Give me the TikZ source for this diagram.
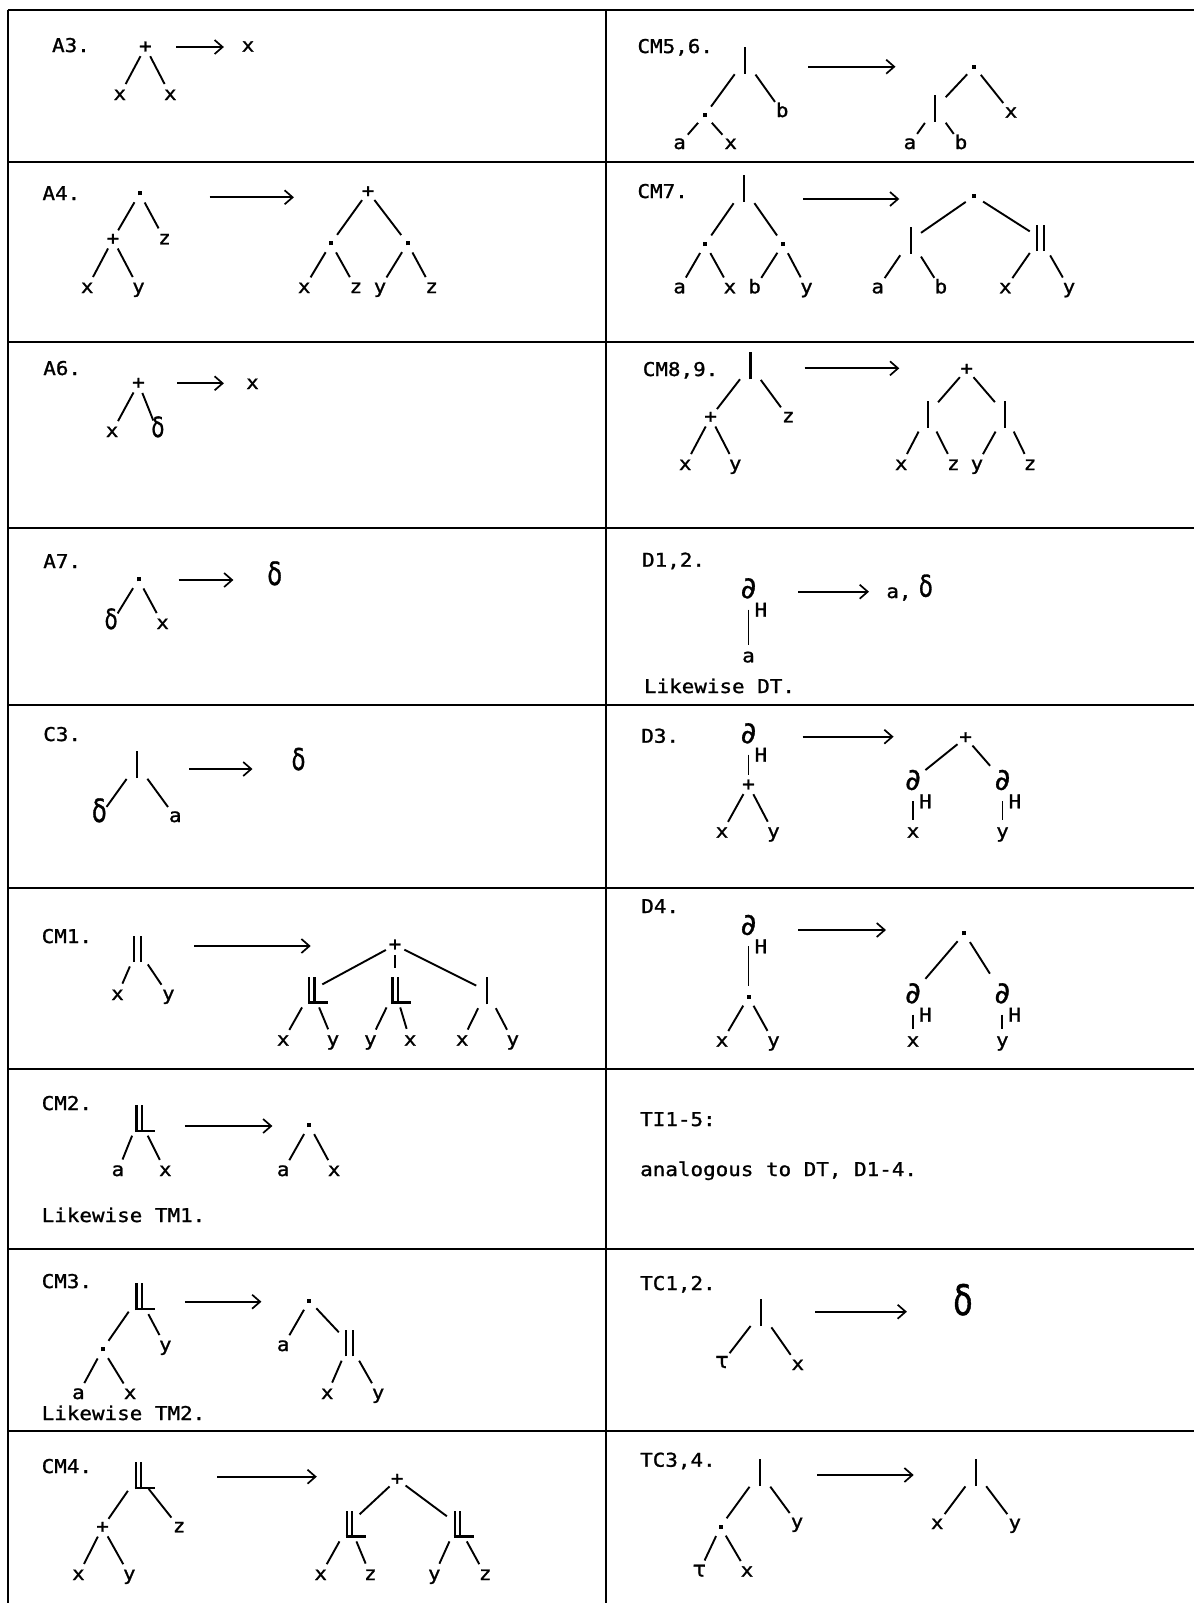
\documentclass[tikz,border=0pt]{standalone}
\usepackage{fontspec}
\setmainfont{DejaVu Sans Mono}[FakeStretch=1.1,FakeBold=1.2]
\newfontfamily\symfont{DejaVu Sans}[FakeBold=1]
\newfontfamily\deltafont{DejaVu Sans}[FakeStretch=0.75,FakeBold=1]
\usetikzlibrary{arrows.meta}

% text size and operator glyphs built from rules
\newcommand\txtsize{\fontsize{9.5}{11}\selectfont}
\newcommand\onebar{\rule{1.1pt}{13.5pt}}
\newcommand\twobar{\rule{1.1pt}{13pt}\hspace{2.4pt}\rule{1.1pt}{13pt}}
\newcommand\lmbar{\rlap{\rule{10pt}{1.1pt}}\rule{1.1pt}{13.5pt}\hspace{1.5pt}\rule{1.1pt}{13.5pt}}
\newcommand\dotsym{\rule{2pt}{2pt}}
\newcommand\dlt[1][14]{{\deltafont\fontsize{#1}{#1}\selectfont δ}}
\newcommand\tausym{{\symfont\fontsize{11}{11}\selectfont τ}}
\newcommand\dersym{{\symfont\fontsize{15}{15}\selectfont ∂}}

\tikzset{
  gridline/.style={line width=1pt},
  branch/.style={line width=0.95pt},
  rulearrow/.style={line width=0.85pt,-{Straight Barb[length=4pt,width=7pt]}},
  rulelabel/.style={anchor=base west,inner sep=0pt,font=\txtsize},
  leaf/.style={circle,inner sep=0pt,minimum size=12pt,text height=5pt,text depth=0pt,font=\txtsize},
  opnode/.style={circle,inner sep=0pt,minimum size=10pt,font=\txtsize},
  barnode/.style={rectangle,inner sep=0pt,minimum width=10pt,minimum height=17pt},
  dernode/.style={rectangle,inner sep=0pt,minimum width=12pt,minimum height=21pt},
  hsub/.style={anchor=center,inner sep=0pt,font=\txtsize},
  result/.style={anchor=base,inner sep=0pt,font=\txtsize},
}

\begin{document}
\begin{tikzpicture}[x=0.5pt,y=-0.5pt]
\fill[white] (0,0) rectangle (1194,1603);
\useasboundingbox (0,0) rectangle (1194,1603);

% ---------- table grid ----------
\draw[gridline] (7.7,10) -- (1194,10);
\foreach \yy in {162,342,527.5,704.5,888,1069,1248.5,1430.5}
  \draw[gridline] (7.7,\yy) -- (1194,\yy);
\draw[gridline] (7.7,10) -- (7.7,1603);
\draw[gridline] (605.7,10) -- (605.7,1603);

% ---------- A3 ----------
\node[rulelabel] (la3) at (51.7,52) {A3.};
\node[opnode] (a3p) at (145.4,47) {+};
\node[leaf] (a3x1) at (119.8,95) {x};
\node[leaf] (a3x2) at (170.3,95) {x};
\draw[branch] (a3p) -- (a3x1);
\draw[branch] (a3p) -- (a3x2);
\coordinate (a3s) at (176,47); \coordinate (a3e) at (223.9,47);
\draw[rulearrow] (a3s) -- (a3e);
\node[result] (a3r) at (248,51.7) {x};

% ---------- A4 ----------
\node[rulelabel] (la4) at (42.1,200) {A4.};
\node[opnode] (a4d) at (139.7,193.3) {\dotsym};
\node[opnode] (a4p) at (112.9,239.3) {+};
\node[leaf] (a4z) at (164.5,239.3) {z};
\node[leaf] (a4x) at (87.2,288) {x};
\node[leaf] (a4y) at (138.5,288) {y};
\draw[branch] (a4d) -- (a4p);
\draw[branch] (a4d) -- (a4z);
\draw[branch] (a4p) -- (a4x);
\draw[branch] (a4p) -- (a4y);
\coordinate (a4s) at (209.7,197.3); \coordinate (a4e) at (293.9,197.3);
\draw[rulearrow] (a4s) -- (a4e);
\node[opnode] (a4q) at (368.1,191.7) {+};
\node[opnode] (a4l) at (331,243.3) {\dotsym};
\node[opnode] (a4r) at (407.5,243.3) {\dotsym};
\node[leaf] (a4x2) at (304.2,288) {x};
\node[leaf] (a4z2) at (355.9,288) {z};
\node[leaf] (a4y2) at (380,288) {y};
\node[leaf] (a4z3) at (431.6,288) {z};
\draw[branch] (a4q) -- (a4l);
\draw[branch] (a4q) -- (a4r);
\draw[branch] (a4l) -- (a4x2);
\draw[branch] (a4l) -- (a4z2);
\draw[branch] (a4r) -- (a4y2);
\draw[branch] (a4r) -- (a4z3);

% ---------- A6 ----------
\node[rulelabel] (la6) at (42.9,375) {A6.};
\node[opnode] (a6p) at (138.5,383.3) {+};
\node[leaf] (a6x) at (112.1,432) {x};
\node[leaf] (a6d) at (157.9,432) {\dlt};
\draw[branch] (a6p) -- (a6x);
\draw[branch] (a6p) -- (a6d);
\coordinate (a6s) at (177.2,383.3); \coordinate (a6e) at (223.9,383.3);
\draw[rulearrow] (a6s) -- (a6e);
\node[result] (a6r) at (252.5,389) {x};

% ---------- A7 ----------
\node[rulelabel] (la7) at (42.9,568) {A7.};
\node[opnode] (a7p) at (138.5,579.3) {\dotsym};
\node[leaf] (a7d) at (111.1,624) {\dlt};
\node[leaf] (a7x) at (162.6,624) {x};
\draw[branch] (a7p) -- (a7d);
\draw[branch] (a7p) -- (a7x);
\coordinate (a7s) at (178.7,580); \coordinate (a7e) at (233.4,580);
\draw[rulearrow] (a7s) -- (a7e);
\node[result] (a7r) at (274.7,585) {\dlt[16]};

% ---------- C3 ----------
\node[rulelabel] (lc3) at (42.9,741) {C3.};
\node[barnode] (c3b) at (137,764.5) {\onebar};
\node[leaf] (c3d) at (99.3,817) {\dlt[16]};
\node[leaf] (c3a) at (175.3,817) {a};
\draw[branch] (c3b) -- (c3d);
\draw[branch] (c3b) -- (c3a);
\coordinate (c3s) at (189.4,769); \coordinate (c3e) at (252.5,769);
\draw[rulearrow] (c3s) -- (c3e);
\node[result] (c3r) at (298.5,770) {\dlt[15]};

% ---------- CM1 ----------
\node[rulelabel] (lm1) at (41.3,943) {CM1.};
\node[barnode] (m1b) at (137.4,949) {\twobar};
\node[leaf] (m1x) at (117.5,995) {x};
\node[leaf] (m1y) at (168.4,995) {y};
\draw[branch] (m1b) -- (m1x);
\draw[branch] (m1b) -- (m1y);
\coordinate (m1s) at (194.4,946); \coordinate (m1e) at (310.7,946);
\draw[rulearrow] (m1s) -- (m1e);
\node[opnode] (m1p) at (395,945) {+};
\node[barnode] (m1l) at (311.9,990) {\lmbar};
\node[barnode] (m1m) at (395,990) {\lmbar};
\node[barnode] (m1r) at (486.7,990.8) {\onebar};
\node[leaf] (m1la) at (283.2,1040.7) {x};
\node[leaf] (m1lb) at (332.9,1040.7) {y};
\node[leaf] (m1ma) at (370.4,1040.7) {y};
\node[leaf] (m1mb) at (410.2,1040.7) {x};
\node[leaf] (m1ra) at (462.2,1040.7) {x};
\node[leaf] (m1rb) at (512.8,1040.7) {y};
\draw[branch] (m1p) -- (m1l);
\draw[branch,shorten >=2.5pt] (m1p) -- (m1m);
\draw[branch] (m1p) -- (m1r);
\draw[branch] (m1l) -- (m1la);
\draw[branch] (m1l) -- (m1lb);
\draw[branch] (m1m) -- (m1ma);
\draw[branch] (m1m) -- (m1mb);
\draw[branch] (m1r) -- (m1ra);
\draw[branch] (m1r) -- (m1rb);

% ---------- CM2 ----------
\node[rulelabel] (lm2) at (41.3,1110) {CM2.};
\node[barnode] (m2l) at (139.1,1118.3) {\lmbar};
\node[leaf] (m2a) at (117.9,1171) {a};
\node[leaf] (m2x) at (165.3,1171) {x};
\draw[branch] (m2l) -- (m2a);
\draw[branch] (m2l) -- (m2x);
\coordinate (m2s) at (184.8,1126); \coordinate (m2e) at (272.4,1126);
\draw[rulearrow] (m2s) -- (m2e);
\node[opnode] (m2d) at (309.2,1125) {\dotsym};
\node[leaf] (m2a2) at (283.2,1171) {a};
\node[leaf] (m2x2) at (334.1,1171) {x};
\draw[branch] (m2d) -- (m2a2);
\draw[branch] (m2d) -- (m2x2);
\node[rulelabel] (lw1) at (41.3,1222) {Likewise TM1.};

% ---------- CM3 ----------
\node[rulelabel] (lm3) at (41.3,1288) {CM3.};
\node[barnode] (m3l) at (139.1,1296.7) {\lmbar};
\node[opnode] (m3d) at (102.6,1349.3) {\dotsym};
\node[leaf] (m3y) at (165.3,1346) {y};
\node[leaf] (m3a) at (78.4,1394) {a};
\node[leaf] (m3x) at (130.1,1394) {x};
\draw[branch] (m3l) -- (m3d);
\draw[branch] (m3l) -- (m3y);
\draw[branch] (m3d) -- (m3a);
\draw[branch] (m3d) -- (m3x);
\coordinate (m3s) at (184.8,1301.7); \coordinate (m3e) at (261.4,1301.7);
\draw[rulearrow] (m3s) -- (m3e);
\node[opnode] (m3d2) at (309.2,1300.7) {\dotsym};
\node[leaf] (m3a2) at (283.2,1346) {a};
\node[barnode] (m3b2) at (349.2,1343.3) {\twobar};
\node[leaf] (m3x2) at (327.2,1394) {x};
\node[leaf] (m3y2) at (378.1,1394) {y};
\draw[branch] (m3d2) -- (m3a2);
\draw[branch] (m3d2) -- (m3b2);
\draw[branch] (m3b2) -- (m3x2);
\draw[branch] (m3b2) -- (m3y2);
\node[rulelabel] (lw2) at (41.3,1420) {Likewise TM2.};

% ---------- CM4 ----------
\node[rulelabel] (lm4) at (41.3,1473) {CM4.};
\node[barnode] (m4l) at (138.3,1475.8) {\lmbar};
\node[opnode] (m4p) at (102.6,1527.3) {+};
\node[leaf] (m4z) at (179.1,1527.3) {z};
\node[leaf] (m4x) at (78.4,1575) {x};
\node[leaf] (m4y) at (129.3,1575) {y};
\draw[branch] (m4l) -- (m4p);
\draw[branch] (m4l) -- (m4z);
\draw[branch] (m4p) -- (m4x);
\draw[branch] (m4p) -- (m4y);
\coordinate (m4s) at (217.3,1476.7); \coordinate (m4e) at (316.8,1476.7);
\draw[rulearrow] (m4s) -- (m4e);
\node[opnode] (m4q) at (397.2,1479.3) {+};
\node[barnode] (m4ll) at (349.2,1524) {\lmbar};
\node[barnode] (m4lr) at (457.3,1524) {\lmbar};
\node[leaf] (m4x2) at (320.7,1575) {x};
\node[leaf] (m4z2) at (370.4,1575) {z};
\node[leaf] (m4y2) at (434.3,1575) {y};
\node[leaf] (m4z3) at (485.2,1575) {z};
\draw[branch] (m4q) -- (m4ll);
\draw[branch] (m4q) -- (m4lr);
\draw[branch] (m4ll) -- (m4x2);
\draw[branch] (m4ll) -- (m4z2);
\draw[branch] (m4lr) -- (m4y2);
\draw[branch] (m4lr) -- (m4z3);

% ---------- CM5,6 ----------
\node[rulelabel] (lm5) at (637.1,53) {CM5,6.};
\node[barnode] (m5b) at (745.1,60) {\onebar};
\node[opnode] (m5d) at (704.9,115) {\dotsym};
\node[leaf] (m5bb) at (782.2,112) {b};
\node[leaf] (m5a) at (679.6,144) {a};
\node[leaf] (m5x) at (730.7,144) {x};
\draw[branch] (m5b) -- (m5d);
\draw[branch] (m5b) -- (m5bb);
\draw[branch] (m5d) -- (m5a);
\draw[branch] (m5d) -- (m5x);
\coordinate (m5s) at (808.4,66.7); \coordinate (m5e) at (895.5,66.7);
\draw[rulearrow] (m5s) -- (m5e);
\node[opnode] (m5d2) at (974.3,66.7) {\dotsym};
\node[barnode] (m5b2) at (935.3,108.3) {\onebar};
\node[leaf] (m5x2) at (1011,112.7) {x};
\node[leaf] (m5a2) at (909.9,144) {a};
\node[leaf] (m5bb2) at (961,144) {b};
\draw[branch] (m5d2) -- (m5b2);
\draw[branch] (m5d2) -- (m5x2);
\draw[branch] (m5b2) -- (m5a2);
\draw[branch] (m5b2) -- (m5bb2);

% ---------- CM7 ----------
\node[rulelabel] (lm7) at (637.1,198) {CM7.};
\node[barnode] (m7b) at (744,188.3) {\onebar};
\node[opnode] (m7dl) at (705.3,244) {\dotsym};
\node[opnode] (m7dr) at (783,244) {\dotsym};
\node[leaf] (m7a) at (679.6,288.3) {a};
\node[leaf] (m7x) at (729.9,288.3) {x};
\node[leaf] (m7bb) at (754.6,288.3) {b};
\node[leaf] (m7y) at (806.5,288.3) {y};
\draw[branch] (m7b) -- (m7dl);
\draw[branch] (m7b) -- (m7dr);
\draw[branch] (m7dl) -- (m7a);
\draw[branch] (m7dl) -- (m7x);
\draw[branch] (m7dr) -- (m7bb);
\draw[branch] (m7dr) -- (m7y);
\coordinate (m7s) at (803.4,199); \coordinate (m7e) at (899.3,199);
\draw[rulearrow] (m7s) -- (m7e);
\node[opnode] (m7d2) at (974.3,196) {\dotsym};
\node[barnode] (m7bl) at (910.6,240) {\onebar};
\node[barnode] (m7br) at (1040.2,238) {\twobar};
\node[leaf] (m7a2) at (877.7,288.3) {a};
\node[leaf] (m7bb2) at (940.9,288.3) {b};
\node[leaf] (m7x2) at (1005.3,288.3) {x};
\node[leaf] (m7y2) at (1069,288.3) {y};
\draw[branch] (m7d2) -- (m7bl);
\draw[branch] (m7d2) -- (m7br);
\draw[branch] (m7bl) -- (m7a2);
\draw[branch] (m7bl) -- (m7bb2);
\draw[branch] (m7br) -- (m7x2);
\draw[branch] (m7br) -- (m7y2);

% ---------- CM8,9 ----------
\node[rulelabel] (lm8) at (642.4,376) {CM8,9.};
\node[barnode] (m8b) at (750.4,365.8) {\onebar};
\node[opnode] (m8p) at (710.6,417.3) {+};
\node[leaf] (m8z) at (788.3,417.3) {z};
\node[leaf] (m8x) at (685.2,465) {x};
\node[leaf] (m8y) at (735.2,465) {y};
\draw[branch] (m8b) -- (m8p);
\draw[branch] (m8b) -- (m8z);
\draw[branch] (m8p) -- (m8x);
\draw[branch] (m8p) -- (m8y);
\coordinate (m8s) at (804.6,368.3); \coordinate (m8e) at (899.3,368.3);
\draw[rulearrow] (m8s) -- (m8e);
\node[opnode] (m8q) at (966.7,369.3) {+};
\node[barnode] (m8bl) at (927.7,414.2) {\onebar};
\node[barnode] (m8br) at (1005.3,414.2) {\onebar};
\node[leaf] (m8x2) at (901.2,465) {x};
\node[leaf] (m8z2) at (953.4,465) {z};
\node[leaf] (m8y2) at (976.9,465) {y};
\node[leaf] (m8z3) at (1030,465) {z};
\draw[branch] (m8q) -- (m8bl);
\draw[branch] (m8q) -- (m8br);
\draw[branch] (m8bl) -- (m8x2);
\draw[branch] (m8bl) -- (m8z2);
\draw[branch] (m8br) -- (m8y2);
\draw[branch] (m8br) -- (m8z3);

% ---------- D1,2 ----------
\node[rulelabel] (ld1) at (641.7,566.7) {D1,2.};
\node[dernode] (d1p) at (748.5,588.3) {\dersym};
\node[hsub] (d1h) at (d1p.south east) {H};
\node[leaf] (d1a) at (748.5,657.3) {a};
\draw[branch] (d1p) -- (d1a);
\coordinate (d1s) at (798.1,591.7); \coordinate (d1e) at (869,591.7);
\draw[rulearrow] (d1s) -- (d1e);
\node[rulelabel] (d1r) at (886,598) {a,};
\node[result] (d1d) at (925.8,596.7) {\dlt[15]};
\node[rulelabel] (lw3) at (643.6,693) {Likewise DT.};

% ---------- D3 ----------
\node[rulelabel] (ld3) at (640.9,742.7) {D3.};
\node[dernode] (d3p) at (748.5,733.3) {\dersym};
\node[hsub] (d3h) at (d3p.south east) {H};
\node[opnode] (d3q) at (748.5,785) {+};
\node[leaf] (d3x) at (722,832.7) {x};
\node[leaf] (d3y) at (773.5,832.7) {y};
\draw[branch] (d3p) -- (d3q);
\draw[branch] (d3q) -- (d3x);
\draw[branch] (d3q) -- (d3y);
\coordinate (d3s) at (802.7,736.7); \coordinate (d3e) at (893.6,736.7);
\draw[rulearrow] (d3s) -- (d3e);
\node[opnode] (d3q2) at (965.6,737.7) {+};
\node[dernode] (d3pl) at (913,780) {\dersym};
\node[hsub] (d3hl) at (d3pl.south east) {H};
\node[dernode] (d3pr) at (1002.5,780) {\dersym};
\node[hsub] (d3hr) at (d3pr.south east) {H};
\node[leaf] (d3x2) at (913,832.7) {x};
\node[leaf] (d3y2) at (1002.5,832.7) {y};
\draw[branch] (d3q2) -- (d3pl);
\draw[branch] (d3q2) -- (d3pr);
\draw[branch] (d3pl) -- (d3x2);
\draw[branch] (d3pr) -- (d3y2);

% ---------- D4 ----------
\node[rulelabel] (ld4) at (640.9,913) {D4.};
\node[dernode] (d4p) at (748.5,925) {\dersym};
\node[hsub] (d4h) at (d4p.south east) {H};
\node[opnode] (d4d) at (748.5,996.7) {\dotsym};
\node[leaf] (d4x) at (722,1041.7) {x};
\node[leaf] (d4y) at (773.5,1041.7) {y};
\draw[branch] (d4p) -- (d4d);
\draw[branch] (d4d) -- (d4x);
\draw[branch] (d4d) -- (d4y);
\coordinate (d4s) at (798.1,930); \coordinate (d4e) at (886,930);
\draw[rulearrow] (d4s) -- (d4e);
\node[opnode] (d4d2) at (964.4,933.3) {\dotsym};
\node[dernode] (d4pl) at (913,993.3) {\dersym};
\node[hsub] (d4hl) at (d4pl.south east) {H};
\node[dernode] (d4pr) at (1002.3,993.3) {\dersym};
\node[hsub] (d4hr) at (d4pr.south east) {H};
\node[leaf] (d4x2) at (913,1041.7) {x};
\node[leaf] (d4y2) at (1002.3,1041.7) {y};
\draw[branch] (d4d2) -- (d4pl);
\draw[branch] (d4d2) -- (d4pr);
\draw[branch] (d4pl) -- (d4x2);
\draw[branch] (d4pr) -- (d4y2);

% ---------- TI1-5 ----------
\node[rulelabel] (lti) at (639.8,1126) {TI1-5:};
\node[rulelabel] (lti2) at (639.8,1176) {analogous to DT, D1-4.};

% ---------- TC1,2 ----------
\node[rulelabel] (ltc1) at (639.8,1290) {TC1,2.};
\node[barnode] (t1b) at (761,1312.5) {\onebar};
\node[leaf] (t1t) at (722,1363) {\tausym};
\node[leaf] (t1x) at (797.8,1365) {x};
\draw[branch] (t1b) -- (t1t);
\draw[branch] (t1b) -- (t1x);
\coordinate (t1s) at (815.2,1311.7); \coordinate (t1e) at (906.9,1311.7);
\draw[rulearrow] (t1s) -- (t1e);
\node[result] (t1r) at (962.9,1315) {\dlt[21]};

% ---------- TC3,4 ----------
\node[rulelabel] (ltc3) at (639.8,1466.7) {TC3,4.};
\node[barnode] (t3b) at (759.9,1472.5) {\onebar};
\node[opnode] (t3d) at (720.5,1526.7) {\dotsym};
\node[leaf] (t3y) at (797,1523) {y};
\node[leaf] (t3t) at (699.3,1571.7) {\tausym};
\node[leaf] (t3x) at (747,1571.7) {x};
\draw[branch] (t3b) -- (t3d);
\draw[branch] (t3b) -- (t3y);
\draw[branch] (t3d) -- (t3t);
\draw[branch] (t3d) -- (t3x);
\coordinate (t3s) at (817.1,1475); \coordinate (t3e) at (913.7,1475);
\draw[rulearrow] (t3s) -- (t3e);
\node[barnode] (t3b2) at (975.8,1472.5) {\onebar};
\node[leaf] (t3x2) at (937.2,1524) {x};
\node[leaf] (t3y2) at (1014.8,1524) {y};
\draw[branch] (t3b2) -- (t3x2);
\draw[branch] (t3b2) -- (t3y2);
\end{tikzpicture}
\end{document}
